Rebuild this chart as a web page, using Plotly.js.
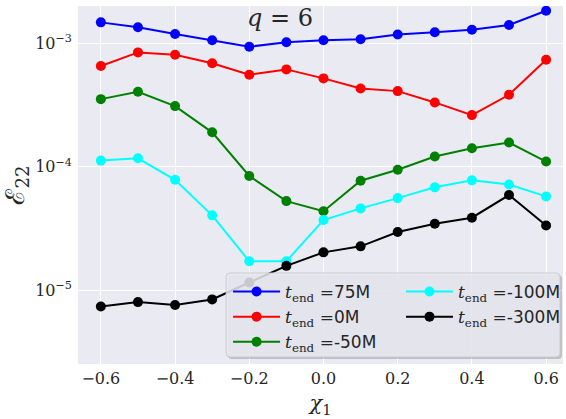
<!DOCTYPE html>
<html>
<head>
<meta charset="utf-8">
<script src="https://cdn.plot.ly/plotly-3.0.1.min.js"></script>
<style>html,body{margin:0;padding:0;background:#fff;}#chart{width:566px;height:419px;}</style>
</head>
<body>
<div id="chart"></div>
<script>
const chi1 = [-0.6, -0.5, -0.4, -0.3, -0.2, -0.1, 0.0, 0.1, 0.2, 0.3, 0.4, 0.5, 0.6];
const err_75M  = [1.48e-3, 1.35e-3, 1.19e-3, 1.06e-3, 9.4e-4, 1.02e-3, 1.06e-3, 1.08e-3, 1.18e-3, 1.23e-3, 1.29e-3, 1.41e-3, 1.84e-3];
const err_0M   = [6.55e-4, 8.45e-4, 8.09e-4, 6.89e-4, 5.56e-4, 6.15e-4, 5.2e-4, 4.31e-4, 4.1e-4, 3.32e-4, 2.62e-4, 3.83e-4, 7.36e-4];
const err_m50M = [3.53e-4, 4.05e-4, 3.1e-4, 1.9e-4, 8.4e-5, 5.26e-5, 4.35e-5, 7.7e-5, 9.44e-5, 1.21e-4, 1.41e-4, 1.57e-4, 1.1e-4];
const err_m100M = [1.12e-4, 1.17e-4, 7.83e-5, 4.03e-5, 1.71e-5, 1.71e-5, 3.69e-5, 4.59e-5, 5.56e-5, 6.8e-5, 7.75e-5, 7.18e-5, 5.74e-5];
const err_m300M = [7.36e-6, 7.98e-6, 7.55e-6, 8.39e-6, 1.15e-5, 1.57e-5, 2.02e-5, 2.26e-5, 2.95e-5, 3.45e-5, 3.86e-5, 5.89e-5, 3.34e-5];
const seriesNames = ['75M', '0M', '-50M', '-100M', '-300M'];
const seriesColors = ['#0000ff', '#ff0000', '#008000', '#00ffff', '#000000'];
const xTickVals = [-0.6, -0.4, -0.2, 0.0, 0.2, 0.4, 0.6];
const xTickText = ['\u22120.6', '\u22120.4', '\u22120.2', '0.0', '0.2', '0.4', '0.6'];
const yTickVals = [1e-5, 1e-4, 1e-3];
const yTickText = ['10<sup>\u22125</sup>', '10<sup>\u22124</sup>', '10<sup>\u22123</sup>'];
const titleText = '<i>q</i> = 6';

const allSeries = [err_75M, err_0M, err_m50M, err_m100M, err_m300M];
const serif = 'DejaVu Serif';

const traces = allSeries.map((ys, i) => ({
  type: 'scatter',
  mode: 'lines+markers',
  x: chi1,
  y: ys,
  name: '<i>t</i><sub>end</sub> =<span style="font-family:\'DejaVu Sans\'">' + seriesNames[i] + '</span>',
  line: {color: seriesColors[i], width: 2},
  marker: {color: seriesColors[i], size: 10},
  legend: i < 3 ? 'legend' : 'legend2'
}));

const W = 488, H = 358, L = 78, T = 6;
function px2x(p){ return (p - L) / W; }
function px2y(p){ return (T + H - p) / H; }
function roundRect(x0, y0, x1, y1, r){
  const X0 = px2x(x0), X1 = px2x(x1), Y0 = px2y(y0), Y1 = px2y(y1);
  const rx = r / W, ry = r / H;
  return `M ${X0+rx} ${Y0} L ${X1-rx} ${Y0} Q ${X1} ${Y0} ${X1} ${Y0-ry} L ${X1} ${Y1+ry} Q ${X1} ${Y1} ${X1-rx} ${Y1} L ${X0+rx} ${Y1} Q ${X0} ${Y1} ${X0} ${Y1+ry} L ${X0} ${Y0-ry} Q ${X0} ${Y0} ${X0+rx} ${Y0} Z`;
}

const legendFont = {family: serif, size: 17, color: '#262626'};
const layout = {
  width: 566, height: 419,
  margin: {l: L, r: 0, t: T, b: 419 - T - H},
  paper_bgcolor: '#ffffff',
  plot_bgcolor: '#eaeaf2',
  font: {family: serif, color: '#262626', size: 16},
  showlegend: true,
  xaxis: {
    range: [-0.6616, 0.6455],
    tickvals: xTickVals, ticktext: xTickText,
    showgrid: true, gridcolor: '#ffffff', gridwidth: 1,
    zeroline: false, showline: false,
    ticks: '', ticklabelstandoff: 3,
    tickfont: {family: serif, size: 16, color: '#262626'},
    title: {text: '<i>\u03c7</i><sub>1</sub>', font: {family: serif, size: 21, color: '#262626'}, standoff: 8}
  },
  yaxis: {
    type: 'log',
    range: [-5.6, -2.697],
    tickvals: yTickVals, ticktext: yTickText,
    showgrid: true, gridcolor: '#ffffff', gridwidth: 1,
    zeroline: false, showline: false,
    ticks: '', ticklabelstandoff: 5,
    tickfont: {family: serif, size: 16, color: '#262626'},
    title: {text: '\u2130<sub>22</sub>', font: {family: serif, size: 26, color: '#262626'}, standoff: 4}
  },
  legend: {
    x: px2x(229), y: px2y(274), xanchor: 'left', yanchor: 'top',
    bgcolor: 'rgba(0,0,0,0)', borderwidth: 0,
    font: legendFont, itemwidth: 47,
    tracegroupgap: 0
  },
  legend2: {
    x: px2x(403), y: px2y(274), xanchor: 'left', yanchor: 'top',
    bgcolor: 'rgba(0,0,0,0)', borderwidth: 0,
    font: legendFont, itemwidth: 47,
    tracegroupgap: 0
  },
  shapes: [
    {type: 'path', xref: 'paper', yref: 'paper', layer: 'above',
     path: roundRect(229, 275, 565, 359, 4), fillcolor: 'rgba(0,0,0,0.18)', line: {width: 0}},
    {type: 'path', xref: 'paper', yref: 'paper', layer: 'above',
     path: roundRect(227, 273, 563, 357, 4), fillcolor: 'rgba(234,234,242,0.85)', line: {color: '#cccccc', width: 1}}
  ],
  annotations: [
    {text: titleText, xref: 'paper', yref: 'paper', x: px2x(281), y: px2y(18),
     xanchor: 'center', yanchor: 'middle', showarrow: false,
     font: {family: serif, size: 24, color: '#262626'}}
  ]
};

Plotly.newPlot('chart', traces, layout, {displayModeBar: false, staticPlot: true});
</script>
</body>
</html>
